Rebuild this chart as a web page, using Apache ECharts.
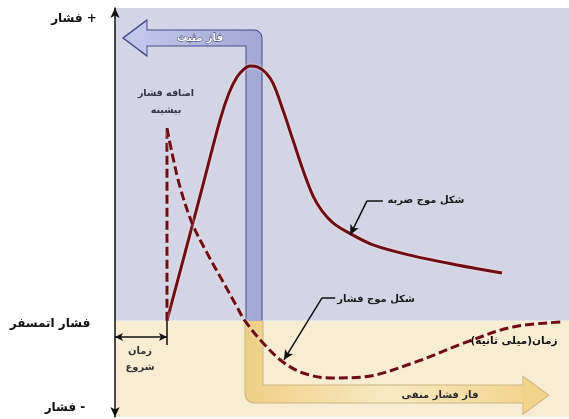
<!DOCTYPE html>
<html>
<head>
<meta charset="utf-8">
<script src="https://cdn.jsdelivr.net/npm/echarts@6/dist/echarts.min.js"></script>
<style>
html,body{margin:0;padding:0;background:#fff;}
#chart{width:569px;height:419px;}
</style>
</head>
<body>
<div id="chart"></div>
<script>
// محدوده محورها (زمان / فشار)
var xRange = [0, 100];
var yRange = [-38.5, 125];

// شکل موج ضربه (خط پر)
var blastWave = [
    [11.45, 0], [15.42, 27.1], [19.38, 54.3], [23.13, 80.2], [25.11, 91.0],
    [26.87, 97.4], [28.41, 100.6], [29.74, 101.8], [31.5, 101.4], [33.26, 99.0],
    [34.8, 95.0], [37.0, 84.2], [39.2, 72.2], [41.41, 60.2], [43.61, 49.9],
    [45.59, 43.9], [48.02, 39.1], [51.1, 35.5], [56.83, 30.3], [65.64, 25.9],
    [75.33, 22.3], [85.24, 19.1]
];

// شکل موج فشار (خط چین)
var peakJump = [[11.45, 0], [11.45, 77.0]];
var pressureWave = [
    [11.45, 77.0], [12.56, 67.0], [14.32, 53.5], [16.96, 39.1], [20.26, 27.1],
    [23.57, 16.3], [26.87, 5.5], [28.63, -0.1], [32.6, -8.9], [37.0, -16.5],
    [41.41, -20.9], [47.36, -22.9], [54.63, -22.5], [65.64, -16.9], [77.53, -8.5],
    [87.67, -2.5], [98.68, -0.5]
];

// فاز مثبت و فاز منفی (فلش های پهن)
var positivePhase = [[30.62, 0], [30.62, 113.0], [6.6, 113.0]];
var positiveHead = [4.4, 113.0];
var negativePhase = [[30.62, 0], [30.62, -29.3], [90.0, -29.3]];
var negativeHead = [92.7, -29.8];

// زمان شروع
var startTime = 11.45;

// خطوط راهنما
var blastPointer = [[59.0, 47.9], [55.5, 47.9], [51.8, 34.3]];
var pressurePointer = [[48.5, 9.1], [45.6, 9.1], [37.2, -15.7]];

var chart = echarts.init(document.getElementById('chart'));

var font = 'DejaVu Sans';
function txt(x, y, s, size, color, extra) {
    var st = {
        text: s, x: x, y: y, fill: color, align: 'center', verticalAlign: 'middle',
        font: 'bold ' + size + 'px "' + font + '"'
    };
    for (var k in extra) st[k] = extra[k];
    return { type: 'text', z: 100, style: st };
}

function bandLine(data, color, width, z) {
    return {
        type: 'line', data: data, symbol: 'none', silent: true, z: z,
        lineStyle: { color: color, width: width, cap: 'butt', join: 'round' }
    };
}

var posFill = new echarts.graphic.LinearGradient(0, 0, 1, 0, [
    { offset: 0, color: '#c3c5ea' }, { offset: 1, color: '#a3a7d4' }
]);
var negFill = new echarts.graphic.LinearGradient(0, 0, 1, 0, [
    { offset: 0, color: '#efcf86' }, { offset: 0.5, color: '#f8e9c2' }, { offset: 1, color: '#f1d38c' }
]);

var curveStyle = { color: '#6b0f15', width: 3, shadowColor: 'rgba(255,225,225,0.95)', shadowBlur: 3 };
var dashStyle = { color: '#6b0f15', width: 3, type: [9, 4], shadowColor: 'rgba(255,225,225,0.95)', shadowBlur: 3 };

var option = {
    animation: false,
    grid: { left: 115, right: 0, top: 8, bottom: 2 },
    xAxis: {
        type: 'value', min: xRange[0], max: xRange[1], show: false
    },
    yAxis: {
        type: 'value', min: yRange[0], max: yRange[1], z: 6,
        axisLine: {
            show: true, onZero: false, symbol: ['arrow', 'arrow'], symbolSize: [7, 10],
            lineStyle: { color: '#111', width: 1.5 }
        },
        axisTick: { show: false }, axisLabel: { show: false }, splitLine: { show: false }
    },
    series: [
        {
            // زمینه مثبت و منفی
            type: 'line', data: [], z: 0, silent: true,
            markArea: {
                silent: true, z: 0,
                data: [
                    [{ coord: [xRange[0], 0], itemStyle: { color: '#d3d4e5' } }, { coord: [xRange[1], yRange[1]] }],
                    [{ coord: [xRange[0], yRange[0]], itemStyle: { color: '#f8edd3' } }, { coord: [xRange[1], 0] }]
                ]
            }
        },
        bandLine(positivePhase, '#464a88', 17, 2),
        {
            type: 'line', data: positivePhase, symbol: 'none', silent: true, z: 3,
            lineStyle: { color: posFill, width: 15, cap: 'butt', join: 'round' },
            markPoint: {
                silent: true, z: 3,
                data: [{
                    coord: positiveHead, symbol: 'triangle', symbolSize: [36, 24], symbolRotate: 90,
                    itemStyle: { color: '#c3c5ea', borderColor: '#464a88', borderWidth: 1.2 },
                    label: { show: false }
                }]
            }
        },
        bandLine(negativePhase, '#cdb581', 19, 2),
        {
            type: 'line', data: negativePhase, symbol: 'none', silent: true, z: 3,
            lineStyle: { color: negFill, width: 17, cap: 'butt', join: 'round' },
            markPoint: {
                silent: true, z: 3,
                data: [{
                    coord: negativeHead, symbol: 'triangle', symbolSize: [38, 26], symbolRotate: -90,
                    itemStyle: { color: '#f1d38c', borderColor: '#cdb581', borderWidth: 1 },
                    label: { show: false }
                }]
            }
        },
        {
            // موج ضربه
            type: 'line', data: blastWave, smooth: 0.35, symbol: 'none', silent: true, z: 5,
            lineStyle: curveStyle
        },
        {
            type: 'line', data: peakJump, symbol: 'none', silent: true, z: 5,
            lineStyle: dashStyle
        },
        {
            // موج فشار
            type: 'line', data: pressureWave, smooth: 0.35, symbol: 'none', silent: true, z: 5,
            lineStyle: dashStyle
        },
        {
            // محور زمان، زمان شروع و خطوط راهنما
            type: 'line', data: [], silent: true, clip: false, z: 6,
            markLine: {
                silent: true, animation: false, z: 6,
                label: { show: false },
                lineStyle: { color: '#111', width: 1.5, type: 'solid' },
                data: [
                    [{ coord: [-4.2, 0], symbol: 'none' }, { coord: [99.3, 0], symbol: 'arrow', symbolSize: [8, 10] }],
                    [{ coord: [startTime, 0], symbol: 'none' }, { coord: [startTime, -9.7], symbol: 'none' }],
                    [{ coord: [0, -6.5], symbol: 'arrow', symbolSize: [6, 8] }, { coord: [startTime, -6.5], symbol: 'arrow', symbolSize: [6, 8] }],
                    [{ coord: blastPointer[0], symbol: 'none' }, { coord: blastPointer[1], symbol: 'none' }],
                    [{ coord: blastPointer[1], symbol: 'none' }, { coord: blastPointer[2], symbol: 'arrow', symbolSize: [7, 10] }],
                    [{ coord: pressurePointer[0], symbol: 'none' }, { coord: pressurePointer[1], symbol: 'none' }],
                    [{ coord: pressurePointer[1], symbol: 'none' }, { coord: pressurePointer[2], symbol: 'arrow', symbolSize: [7, 10] }]
                ]
            }
        }
    ],
    graphic: [
        txt(74, 19, 'فشار +', 12, '#111'),
        txt(50, 324, 'فشار اتمسفر', 12, '#111'),
        txt(65, 408, 'فشار -', 12, '#111'),
        txt(140, 351, 'زمان', 10, '#333'),
        txt(140, 367, 'شروع', 10, '#333'),
        txt(514, 341, 'زمان(میلی ثانیه)', 10.5, '#111'),
        txt(426, 200, 'شکل موج ضربه', 10, '#1a1a1a'),
        txt(376, 299, 'شکل موج فشار', 10, '#1a1a1a'),
        txt(166, 94, 'اضافه فشار', 9.5, '#33344a'),
        txt(166, 111, 'بیشینه', 9.5, '#33344a'),
        txt(200, 38, 'فاز مثبت', 10.5, '#ffffff', { stroke: '#2a2d62', lineWidth: 0.8 }),
        txt(440, 395, 'فاز فشار منفی', 10, '#2a2a2a')
    ]
};

chart.setOption(option);
</script>
</body>
</html>
